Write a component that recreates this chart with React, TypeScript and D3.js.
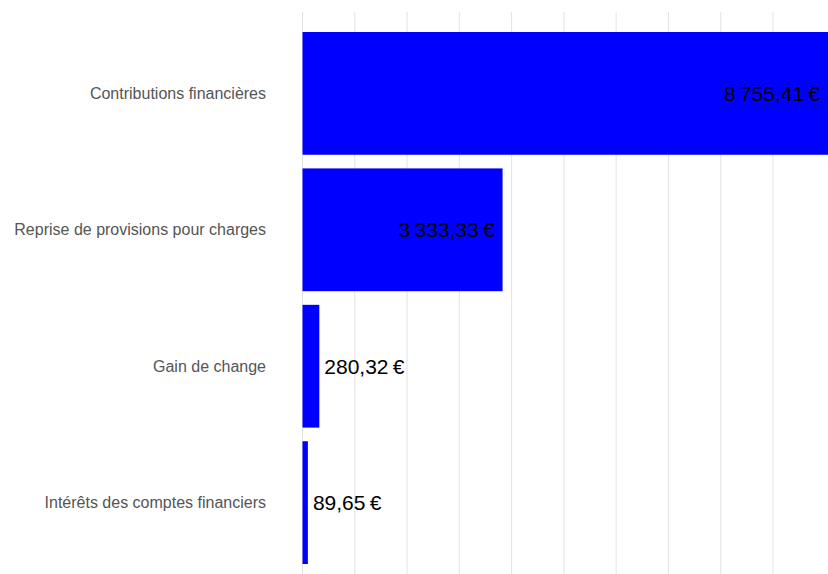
import React from "react";
import * as d3 from "d3";

const categories = [
  "Contributions financières",
  "Reprise de provisions pour charges",
  "Gain de change",
  "Intérêts des comptes financiers",
];
const values = [8755.41, 3333.33, 280.32, 89.65];
const gridStep = 871;
const gridCount = 10;

const W = 828;
const H = 574;

const fr = d3.formatLocale({
  decimal: ",",
  thousands: "\u202F",
  grouping: [3],
  currency: ["", "\u202F€"],
});
const fmt = fr.format("$,.2f");

export default function App() {
  const x = d3.scaleLinear().domain([0, d3.max(values) as number]).range([302.5, 828]);
  const y = d3
    .scaleBand<string>()
    .domain(categories)
    .range([32, 564])
    .paddingInner(0.1)
    .paddingOuter(0);
  const grid = d3.range(gridCount).map((i) => i * gridStep);
  const font = "'Liberation Sans', Arial, Helvetica, sans-serif";
  return (
    <svg
      width={W}
      height={H}
      style={{ position: "absolute", left: 0, top: 0, background: "#fff" }}
      fontFamily={font}
    >
      {grid.map((g, i) => (
        <line key={i} x1={x(g)} x2={x(g)} y1={12} y2={H} stroke="#e2e2e2" strokeWidth={1} />
      ))}
      {categories.map((c, i) => {
        const v = values[i];
        const yy = y(c) as number;
        const bw = y.bandwidth();
        const x1 = x(v);
        const w = x1 - x(0);
        const inside = w > 100;
        return (
          <g key={c}>
            <rect x={x(0)} y={yy} width={w} height={bw} fill="#0000ff" />
            <text
              x={266}
              y={yy + bw / 2}
              textAnchor="end"
              dominantBaseline="central"
              fontSize={16}
              fill="#555"
            >
              {c}
            </text>
            <text
              x={inside ? x1 - 8 : x1 + 5}
              y={yy + bw / 2}
              textAnchor={inside ? "end" : "start"}
              dominantBaseline="central"
              fontSize={21}
              fill="#000"
            >
              {fmt(v)}
            </text>
          </g>
        );
      })}
    </svg>
  );
}
